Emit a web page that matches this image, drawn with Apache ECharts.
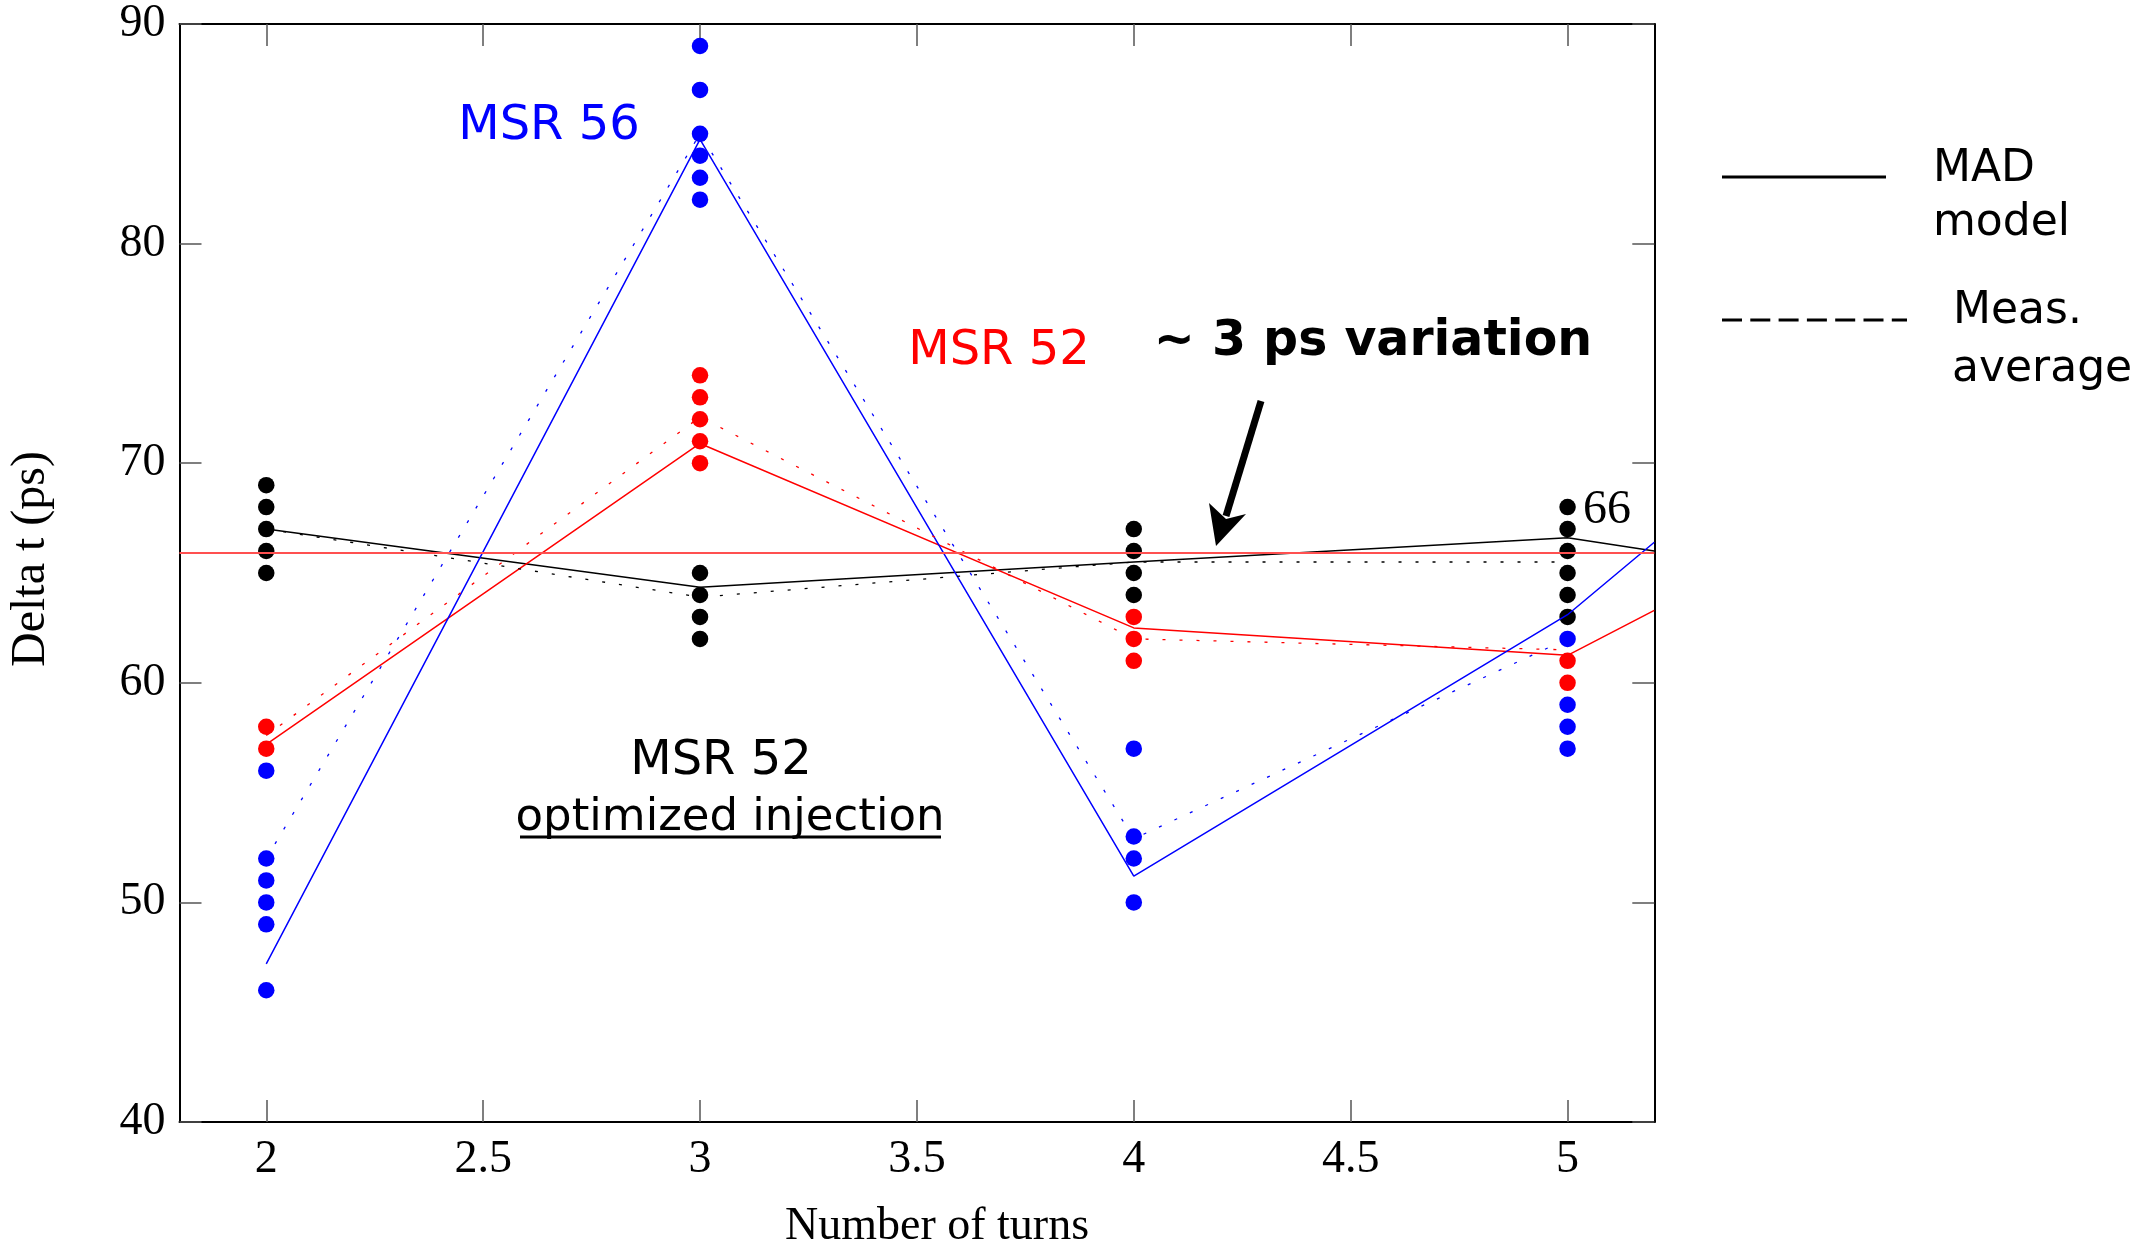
<!DOCTYPE html>
<html>
<head>
<meta charset="utf-8">
<script src="https://cdn.jsdelivr.net/npm/echarts@6/dist/echarts.min.js"></script>
<style>
  html, body { margin: 0; padding: 0; background: #fff; }
  #chart { width: 2134px; height: 1243px; }
</style>
</head>
<body>
<div id="chart"></div>
<script>
  // axis ticks
  var xTicks = [2, 2.5, 3, 3.5, 4, 4.5, 5];
  var yMin = 40, yMax = 90, yStep = 10;

  // single measurements (turns, delta t)
  var blackDots = [[2,69],[2,68],[2,67],[2,66],[2,65],
                   [3,65],[3,64],[3,63],[3,62],
                   [4,67],[4,66],[4,65],[4,64],
                   [5,68],[5,67],[5,66],[5,65],[5,64],[5,63]];
  var redDots   = [[2,58],[2,57],
                   [3,74],[3,73],[3,72],[3,71],[3,70],
                   [4,63],[4,62],[4,61],
                   [5,61],[5,60]];
  var blueDots  = [[2,56],[2,52],[2,51],[2,50],[2,49],[2,46],
                   [3,89],[3,87],[3,85],[3,84],[3,83],[3,82],
                   [4,57],[4,53],[4,52],[4,50],
                   [5,62],[5,59],[5,58],[5,57]];

  // MAD model (solid)
  var madBlack = [[2,67.0],[3,64.35],[4,65.5],[5,66.6],[5.2,66.0]];
  var madRed   = [[2,57.2],[3,70.9],[4,62.5],[5,61.25],[5.2,63.3]];
  var madBlue  = [[2,47.2],[3,84.75],[4,51.2],[5,63.1],[5.2,66.4]];

  // measured average (dotted)
  var avgBlack = [[2,67.0],[3,63.9],[4,65.5],[5,65.5]];
  var avgRed   = [[2,57.6],[3,72.1],[4,62.0],[5,61.5]];
  var avgBlue  = [[2,52.0],[3,85.0],[4,52.9],[5,62.0]];

  var refLevel = 65.9;

  var serif = "'Liberation Serif', 'Times New Roman', serif";
  var comic = "'Comic Sans MS', 'DejaVu Sans', sans-serif";

  var chart = echarts.init(document.getElementById('chart'));

  function dots(data, color) {
    return { type: 'scatter', data: data, symbolSize: 16.5, z: 2,
             itemStyle: { color: color, opacity: 1 }, silent: true };
  }
  function line(data, color, dotted) {
    return { type: 'line', data: data, showSymbol: false, z: 3, silent: true,
             lineStyle: { color: color, width: dotted ? 1.3 : 1.5, type: dotted ? [3, 14] : 'solid' } };
  }

  var tickStyle = { show: true, inside: true, length: 22, lineStyle: { color: '#555', width: 1.5 } };
  var frameLine = { show: true, onZero: false, lineStyle: { color: '#000', width: 2 } };

  chart.setOption({
    animation: false,
    backgroundColor: '#fff',
    grid: { left: 179.5, right: 479.7, top: 24, bottom: 121 },
    xAxis: [{
      type: 'value', min: 1.8, max: 5.2, position: 'bottom',
      axisLine: frameLine,
      axisTick: Object.assign({ customValues: xTicks }, tickStyle),
      axisLabel: { customValues: xTicks, margin: 15, color: '#000', fontFamily: serif, fontSize: 46 },
      splitLine: { show: false }
    }, {
      type: 'value', min: 1.8, max: 5.2, position: 'top',
      axisLine: frameLine,
      axisTick: Object.assign({ customValues: xTicks }, tickStyle),
      axisLabel: { show: false },
      splitLine: { show: false }
    }],
    yAxis: [{
      type: 'value', min: yMin, max: yMax, interval: yStep, position: 'left',
      axisLine: frameLine, axisTick: tickStyle,
      axisLabel: { margin: 14, color: '#000', fontFamily: serif, fontSize: 46 },
      splitLine: { show: false }
    }, {
      type: 'value', min: yMin, max: yMax, interval: yStep, position: 'right',
      axisLine: frameLine, axisTick: tickStyle,
      axisLabel: { show: false },
      splitLine: { show: false }
    }],
    series: [
      { type: 'line', data: [], z: 1, silent: true,
        markLine: { silent: true, symbol: ['none', 'none'], label: { show: false },
                    lineStyle: { color: '#ff5050', width: 2, type: 'solid' },
                    data: [{ yAxis: refLevel }] } },
      dots(blackDots, '#000'),
      dots(redDots, '#ff0000'),
      dots(blueDots, '#0000ff'),
      line(madBlack, '#000', false),
      line(madRed, '#ff0000', false),
      line(madBlue, '#0000ff', false),
      line(avgBlack, '#000', true),
      line(avgRed, '#ff0000', true),
      line(avgBlue, '#0000ff', true)
    ],
    graphic: [
      // axis names
      { type: 'text', x: 937, y: 1227, style: { text: 'Number of turns', font: '46px ' + serif, fill: '#000', align: 'center', verticalAlign: 'middle' } },
      { type: 'text', x: 31, y: 559, rotation: Math.PI / 2, style: { text: 'Delta t (ps)', font: '48px ' + serif, fill: '#000', align: 'center', verticalAlign: 'middle' } },
      // annotations
      { type: 'text', x: 549, y: 127, style: { text: 'MSR 56', font: '48px ' + comic, fill: '#0000ff', align: 'center', verticalAlign: 'middle' } },
      { type: 'text', x: 999, y: 352, style: { text: 'MSR 52', font: '48px ' + comic, fill: '#ff0000', align: 'center', verticalAlign: 'middle' } },
      { type: 'text', x: 1373, y: 342, style: { text: '~ 3 ps variation', font: 'bold 49px ' + comic, fill: '#000', align: 'center', verticalAlign: 'middle' } },
      { type: 'text', x: 721, y: 762, style: { text: 'MSR 52', font: '48px ' + comic, fill: '#000', align: 'center', verticalAlign: 'middle' } },
      { type: 'text', x: 730, y: 818, style: { text: 'optimized injection', font: '45px ' + comic, fill: '#000', align: 'center', verticalAlign: 'middle' } },
      { type: 'line', shape: { x1: 520, y1: 837, x2: 941, y2: 837 }, style: { stroke: '#000', lineWidth: 3 } },
      { type: 'text', x: 1607, y: 510, style: { text: '66', font: '48px ' + serif, fill: '#000', align: 'center', verticalAlign: 'middle' } },
      // arrow
      { type: 'line', shape: { x1: 1261, y1: 401, x2: 1226, y2: 516 }, style: { stroke: '#000', lineWidth: 7 } },
      { type: 'polygon', shape: { points: [[1216, 546], [1209, 503], [1226, 519], [1246, 514]] }, style: { fill: '#000' } },
      // legend
      { type: 'line', shape: { x1: 1722, y1: 177, x2: 1886, y2: 177 }, style: { stroke: '#000', lineWidth: 3 } },
      { type: 'text', x: 1933, y: 170, style: { text: 'MAD', font: '44px ' + comic, fill: '#000', align: 'left', verticalAlign: 'middle' } },
      { type: 'text', x: 1933, y: 224, style: { text: 'model', font: '44px ' + comic, fill: '#000', align: 'left', verticalAlign: 'middle' } },
      { type: 'line', shape: { x1: 1722, y1: 320, x2: 1907, y2: 320 }, style: { stroke: '#000', lineWidth: 3, lineDash: [20, 8.3] } },
      { type: 'text', x: 1953, y: 312, style: { text: 'Meas.', font: '44px ' + comic, fill: '#000', align: 'left', verticalAlign: 'middle' } },
      { type: 'text', x: 1952, y: 370, style: { text: 'average', font: '44px ' + comic, fill: '#000', align: 'left', verticalAlign: 'middle' } }
    ]
  });
</script>
</body>
</html>
